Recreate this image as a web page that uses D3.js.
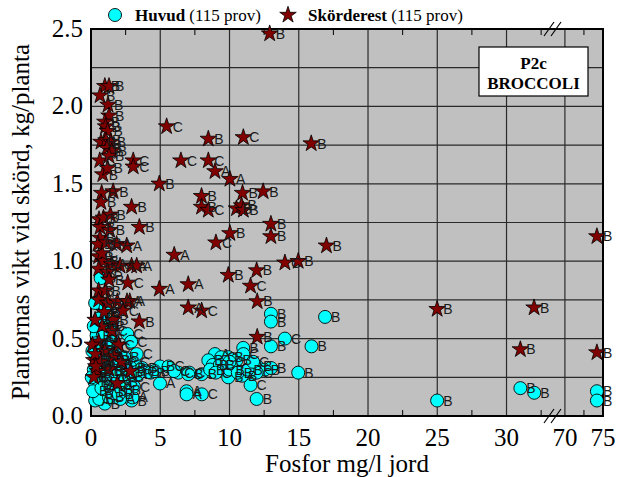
<!DOCTYPE html>
<html>
<head>
<meta charset="utf-8">
<script src="https://cdn.jsdelivr.net/npm/d3@7"></script>
<style>
  body { margin: 0; background: #fff; }
  .serif { font-family: "Liberation Serif", "Times New Roman", Times, serif; }
  .sans { font-family: "Liberation Sans", Arial, Helvetica, sans-serif; }
</style>
</head>
<body>
<div id="chart"></div>
<script>
// Huvud: [fosfor, vikt, grupp]
const huvud = [
  [12.99, 0.66, "B"], [12.99, 0.61, "B"], [14.0, 0.50, "C"], [12.99, 0.45, "B"],
  [15.92, 0.45, "B"], [16.9, 0.64, "B"], [14.96, 0.28, "B"], [11.96, 0.11, "B"],
  [11.52, 0.20, "C"], [24.99, 0.10, "B"], [31.0, 0.18, "B"], [32.0, 0.15, "B"],
  [74.2, 0.16, "B"], [74.2, 0.10, "B"], [4.98, 0.21, "A"], [6.9, 0.16, "A"],
  [6.9, 0.14, "A"], [8.0, 0.14, "C"], [2.93, 0.10, "B"], [3.0, 0.12, "A"],
  [4.98, 0.32, "B"], [5.6, 0.32, "C"], [6.3, 0.28, "C"], [7.1, 0.28, "C"],
  [7.99, 0.27, "B"], [8.95, 0.40, "A"], [8.47, 0.36, "B"], [8.8, 0.33, "B"],
  [9.91, 0.38, "B"], [10.5, 0.36, "B"], [10.99, 0.44, "B"], [11.0, 0.40, "C"],
  [12.0, 0.32, "B"], [12.55, 0.30, "B"], [11.96, 0.28, "C"], [9.91, 0.25, "B"],
  [10.9, 0.26, "B"], [10.0, 0.30, "B"], [7.02, 0.27, "B"], [9.4, 0.38, "C"],
  [13.0, 0.31, "B"], [10.0, 0.35, "C"], [0.7, 0.89, "B"], [0.3, 0.73, "B"],
  [0.9, 0.66, "B"], [1.0, 0.62, "B"], [0.7, 0.58, "C"], [0.95, 0.55, "B"],
  [0.4, 0.52, "B"], [1.3, 0.50, "C"], [2.62, 0.53, "C"], [2.9, 0.48, "C"],
  [0.6, 0.45, "B"], [1.1, 0.42, "B"], [1.7, 0.44, "C"], [0.4, 0.38, "B"],
  [0.7, 0.32, "B"], [1.0, 0.36, "B"], [1.4, 0.34, "B"], [3.1, 0.35, "C"],
  [2.9, 0.31, "B"], [3.7, 0.31, "B"], [3.9, 0.29, "B"], [4.3, 0.28, "B"],
  [4.6, 0.29, "B"], [0.5, 0.26, "B"], [0.9, 0.22, "B"], [1.4, 0.24, "A"],
  [2.2, 0.27, "C"], [2.7, 0.25, "B"], [3.1, 0.19, "C"], [0.4, 0.20, "B"],
  [0.5, 0.15, "B"], [1.9, 0.19, "A"], [2.1, 0.11, "A"], [1.0, 0.08, "B"],
  [0.3, 0.10, "A"], [0.2, 0.30, "B"], [0.1, 0.42, "C"], [1.2, 0.29, "B"],
  [1.6, 0.30, "B"], [2.0, 0.33, "B"], [2.4, 0.38, "B"], [0.8, 0.40, "B"],
  [0.6, 0.11, "B"], [1.5, 0.16, "B"], [0.25, 0.22, "B"], [1.8, 0.26, "B"],
  [0.15, 0.16, "B"], [2.5, 0.17, "B"], [1.15, 0.47, "B"], [0.85, 0.52, "B"],
  [1.05, 0.70, "B"], [0.6, 0.63, "B"], [3.4, 0.27, "B"], [0.35, 0.47, "C"],
  [1.3, 0.12, "B"], [0.75, 0.18, "A"], [2.3, 0.22, "B"], [0.45, 0.33, "B"],
  [1.75, 0.36, "B"], [0.55, 0.36, "C"], [1.25, 0.38, "B"], [8.6, 0.30, "B"],
  [9.3, 0.33, "B"], [10.6, 0.28, "B"], [11.3, 0.30, "B"], [9.0, 0.28, "C"],
  [11.7, 0.35, "C"], [0.2, 0.58, "B"], [1.35, 0.58, "B"], [2.0, 0.14, "B"],
  [3.3, 0.40, "C"], [6.0, 0.29, "C"], [0.05, 0.25, "B"]
];

// Skörderest: [fosfor, vikt, grupp]
const skorderest = [
  [12.9, 2.47, "B"], [1.0, 2.13, "B"], [1.3, 2.13, "B"], [0.65, 2.07, "B"],
  [1.23, 2.01, "B"], [1.3, 1.94, "B"], [1.0, 1.90, "B"], [1.05, 1.87, "B"],
  [1.2, 1.84, "B"], [0.72, 1.77, "B"], [1.08, 1.78, "B"], [1.42, 1.77, "B"],
  [1.15, 1.73, "B"], [1.5, 1.71, "B"], [0.63, 1.65, "C"], [1.3, 1.68, "B"],
  [3.05, 1.65, "C"], [3.05, 1.61, "C"], [0.85, 1.56, "B"], [5.46, 1.87, "C"],
  [6.49, 1.65, "C"], [8.47, 1.79, "B"], [11.0, 1.80, "C"], [8.47, 1.65, "C"],
  [8.95, 1.58, "A"], [10.03, 1.53, "A"], [4.93, 1.50, "B"], [15.9, 1.76, "B"],
  [0.77, 1.44, "B"], [0.72, 1.38, "B"], [2.93, 1.35, "B"], [7.98, 1.42, "B"],
  [7.98, 1.35, "B"], [8.47, 1.33, "C"], [10.94, 1.44, "B"], [12.43, 1.45, "B"],
  [10.5, 1.34, "B"], [10.87, 1.36, "B"], [11.0, 1.33, "B"], [3.49, 1.22, "B"],
  [10.03, 1.18, "B"], [9.02, 1.12, "C"], [12.99, 1.24, "B"], [12.99, 1.16, "B"],
  [14.0, 0.99, "C"], [14.96, 1.0, "B"], [11.96, 0.94, "B"], [17.0, 1.10, "B"],
  [24.99, 0.69, "B"], [31.99, 0.70, "B"], [31.0, 0.43, "B"], [74.2, 1.16, "B"],
  [74.2, 0.41, "B"], [12.0, 0.74, "B"], [12.0, 0.51, "B"], [9.91, 0.91, "B"],
  [11.52, 0.84, "C"], [7.02, 0.85, "A"], [7.02, 0.70, "A"], [7.99, 0.68, "C"],
  [6.01, 1.04, "A"], [4.93, 0.82, "A"], [3.49, 0.61, "B"], [2.65, 0.86, "C"],
  [2.93, 0.97, "A"], [3.3, 0.97, "A"], [2.8, 0.74, "A"], [1.85, 1.11, "A"],
  [2.58, 1.10, "A"], [0.58, 1.27, "C"], [0.65, 1.22, "B"], [0.65, 1.15, "B"],
  [0.5, 1.11, "B"], [0.55, 1.03, "B"], [0.9, 1.00, "B"], [1.5, 0.98, "A"],
  [2.1, 0.97, "A"], [0.55, 0.95, "B"], [1.2, 0.93, "B"], [0.55, 0.81, "B"],
  [1.05, 0.81, "B"], [0.55, 0.75, "C"], [1.2, 0.73, "B"], [1.9, 0.74, "A"],
  [2.6, 0.74, "A"], [0.95, 0.67, "B"], [2.3, 0.68, "C"], [0.55, 0.48, "C"],
  [0.1, 0.46, "B"], [2.0, 0.46, "C"], [1.65, 0.39, "B"], [0.2, 0.36, "C"],
  [0.45, 0.29, "B"], [1.3, 0.30, "B"], [2.85, 0.29, "B"], [0.2, 0.25, "C"],
  [1.9, 0.21, "A"], [0.3, 0.40, "B"], [1.0, 0.42, "B"], [1.5, 0.55, "C"],
  [0.8, 0.58, "B"], [1.3, 0.88, "B"], [0.8, 1.05, "C"], [1.1, 1.12, "B"],
  [1.35, 1.20, "B"], [0.9, 1.28, "B"], [1.4, 1.30, "B"], [0.3, 0.62, "B"],
  [1.6, 0.62, "B"], [2.2, 0.35, "C"], [0.7, 0.35, "B"], [1.6, 1.45, "B"],
  [1.2, 1.60, "B"], [0.35, 0.32, "B"]
];

const xTicks = [0, 5, 10, 15, 20, 25, 30, 70, 75];
const xMinor = [2.5, 7.5, 12.5, 17.5, 22.5, 27.5, 32.5, 72.5];
const yTicks = [0, 0.5, 1.0, 1.5, 2.0, 2.5];
const yGrid = d3.range(0.25, 2.5, 0.25);

const width = 617, height = 477;
const plot = { left: 91, right: 603, top: 29, bottom: 416 };
const breakPx = 555;

const svg = d3.select("#chart").append("svg")
  .attr("width", width).attr("height", height);

// broken x axis: 0..33.5 then 68.7..75
const x = d3.scaleLinear()
  .domain([0, 33.5, 68.7, 75])
  .range([plot.left, breakPx, breakPx, plot.right]);
const y = d3.scaleLinear().domain([0, 2.5]).range([plot.bottom, plot.top]);

svg.append("rect")
  .attr("x", plot.left).attr("y", plot.top)
  .attr("width", plot.right - plot.left).attr("height", plot.bottom - plot.top)
  .attr("fill", "#c0c0c0");

// grid
svg.append("g").selectAll("line").data(yGrid).join("line")
  .attr("x1", plot.left).attr("x2", plot.right)
  .attr("y1", d => y(d)).attr("y2", d => y(d))
  .attr("stroke", "#2a2a2a").attr("stroke-width", 1.2);
svg.append("g").selectAll("line").data(xTicks.slice(1, -1)).join("line")
  .attr("x1", d => x(d)).attr("x2", d => x(d))
  .attr("y1", plot.top).attr("y2", plot.bottom)
  .attr("stroke", "#2a2a2a").attr("stroke-width", 1.2);

// minor ticks top and bottom
const tk = svg.append("g").attr("stroke", "#000").attr("stroke-width", 1);
xMinor.forEach(v => {
  tk.append("line").attr("x1", x(v)).attr("x2", x(v)).attr("y1", plot.bottom).attr("y2", plot.bottom - 6);
  tk.append("line").attr("x1", x(v)).attr("x2", x(v)).attr("y1", plot.top).attr("y2", plot.top + 6);
});

svg.append("rect")
  .attr("x", plot.left).attr("y", plot.top)
  .attr("width", plot.right - plot.left).attr("height", plot.bottom - plot.top)
  .attr("fill", "none").attr("stroke", "#000").attr("stroke-width", 2);

// break marks
[plot.top, plot.bottom].forEach(yy => {
  [-3, 4].forEach(dx => {
    svg.append("line")
      .attr("x1", breakPx - 8 + dx).attr("y1", yy + 7)
      .attr("x2", breakPx + 2 + dx).attr("y2", yy - 7)
      .attr("stroke", "#000").attr("stroke-width", 1.2);
  });
});

// tick labels
svg.append("g").selectAll("text").data(xTicks).join("text")
  .attr("class", "serif")
  .attr("x", d => x(d)).attr("y", 446)
  .attr("text-anchor", "middle")
  .attr("font-size", 25)
  .text(d => d);
svg.append("g").selectAll("text").data(yTicks).join("text")
  .attr("class", "serif")
  .attr("x", 83).attr("y", d => y(d) + 8)
  .attr("text-anchor", "end")
  .attr("font-size", 25)
  .text(d => d.toFixed(1));

// axis titles
svg.append("text")
  .attr("class", "serif")
  .attr("x", (plot.left + plot.right) / 2).attr("y", 472)
  .attr("text-anchor", "middle")
  .attr("font-size", 25)
  .text("Fosfor mg/l jord");
svg.append("text")
  .attr("class", "serif")
  .attr("transform", "translate(29,222) rotate(-90)")
  .attr("text-anchor", "middle")
  .attr("font-size", 25)
  .text("Plantornas vikt vid skörd, kg/planta");

const star = d3.symbol().type(d3.symbolStar).size(85);

// Huvud circles
const gH = svg.append("g");
gH.selectAll("circle").data(huvud).join("circle")
  .attr("cx", d => x(d[0])).attr("cy", d => y(d[1]))
  .attr("r", 6.5)
  .attr("fill", "#00ffff").attr("stroke", "#000").attr("stroke-width", 0.9);
gH.selectAll("text").data(huvud).join("text")
  .attr("class", "sans")
  .attr("x", d => x(d[0]) + 6).attr("y", d => y(d[1]) + 5)
  .attr("font-size", 14)
  .attr("fill", "#1a1a1a")
  .text(d => d[2]);

// Skörderest stars
const gS = svg.append("g");
gS.selectAll("path").data(skorderest).join("path")
  .attr("d", star)
  .attr("transform", d => `translate(${x(d[0])},${y(d[1])})`)
  .attr("fill", "#800000").attr("stroke", "#000").attr("stroke-width", 0.8);
gS.selectAll("text").data(skorderest).join("text")
  .attr("class", "sans")
  .attr("x", d => x(d[0]) + 6).attr("y", d => y(d[1]) + 5)
  .attr("font-size", 14)
  .attr("fill", "#1a1a1a")
  .text(d => d[2]);

// legend
const lg = svg.append("g").attr("class", "serif").attr("font-size", 17);
lg.append("circle").attr("cx", 115).attr("cy", 15).attr("r", 6.5)
  .attr("fill", "#00ffff").attr("stroke", "#000").attr("stroke-width", 0.9);
const t1 = lg.append("text").attr("x", 135).attr("y", 21);
t1.append("tspan").attr("font-weight", "bold").text("Huvud");
t1.append("tspan").text(" (115 prov)");
lg.append("path").attr("d", star)
  .attr("transform", "translate(288,15)")
  .attr("fill", "#800000").attr("stroke", "#000").attr("stroke-width", 0.8);
const t2 = lg.append("text").attr("x", 308).attr("y", 21);
t2.append("tspan").attr("font-weight", "bold").text("Skörderest");
t2.append("tspan").text(" (115 prov)");

// info box
svg.append("rect")
  .attr("x", 479).attr("y", 47).attr("width", 109).attr("height", 49)
  .attr("fill", "#fff").attr("stroke", "#000").attr("stroke-width", 1.2);
svg.append("text")
  .attr("class", "serif")
  .attr("x", 533.5).attr("y", 69)
  .attr("text-anchor", "middle")
  .attr("font-weight", "bold").attr("font-size", 17)
  .text("P2c");
svg.append("text")
  .attr("class", "serif")
  .attr("x", 533.5).attr("y", 89)
  .attr("text-anchor", "middle")
  .attr("font-weight", "bold").attr("font-size", 17)
  .text("BROCCOLI");
</script>
</body>
</html>
